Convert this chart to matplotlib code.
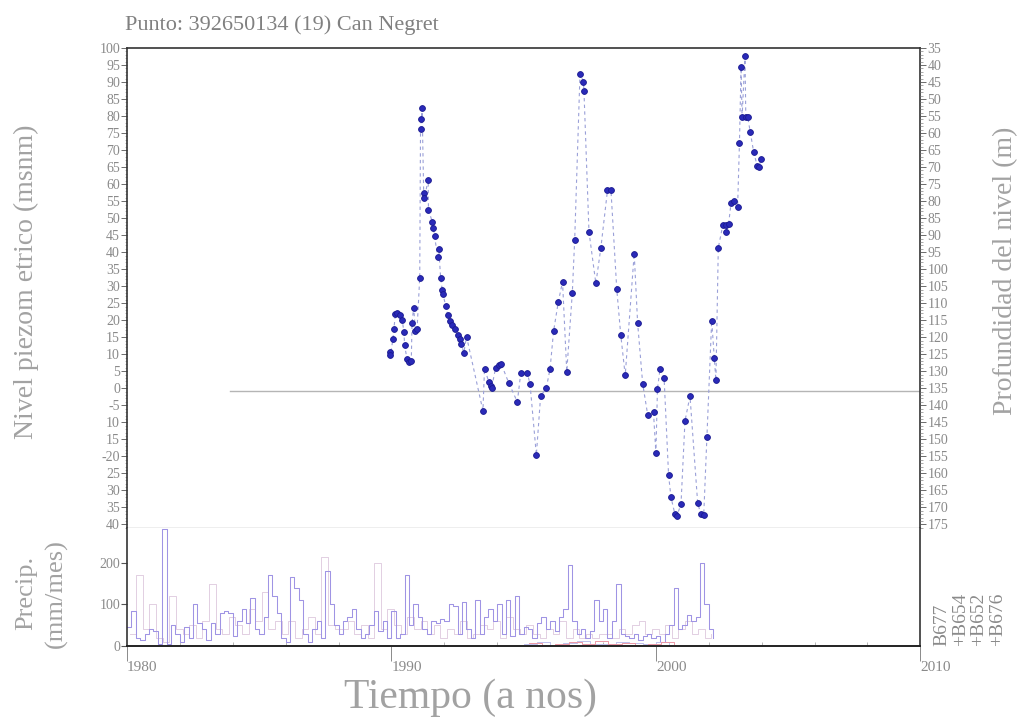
import numpy as np
import matplotlib
matplotlib.use("Agg")
import matplotlib.pyplot as plt
from matplotlib.ticker import MultipleLocator

plt.rcParams['font.family'] = ['Liberation Serif', 'DejaVu Serif']

# niveles piezometricos (msnm) del punto 392650134
years = [1989.94, 1989.96, 1990.06, 1990.09, 1990.15, 1990.22, 1990.31, 1990.41,
         1990.47, 1990.50, 1990.59, 1990.66, 1990.75, 1990.78, 1990.84, 1990.91,
         1990.97, 1991.07, 1991.10, 1991.13, 1991.16, 1991.22, 1991.25, 1991.39,
         1991.40, 1991.54, 1991.59, 1991.63, 1991.75, 1991.79, 1991.86, 1991.92,
         1991.95, 1992.05, 1992.13, 1992.21, 1992.30, 1992.42, 1992.51, 1992.59,
         1992.64, 1992.74, 1992.84, 1993.46, 1993.52, 1993.69, 1993.75, 1993.79,
         1993.94, 1994.06, 1994.16, 1994.44, 1994.76, 1994.89, 1995.14, 1995.24,
         1995.48, 1995.64, 1995.86, 1996.00, 1996.13, 1996.31, 1996.47, 1996.63,
         1996.84, 1996.93, 1997.13, 1997.26, 1997.28, 1997.47, 1997.73, 1997.92,
         1998.17, 1998.30, 1998.52, 1998.67, 1998.84, 1999.18, 1999.31, 1999.50,
         1999.69, 1999.91, 2000.00, 2000.06, 2000.16, 2000.31, 2000.48, 2000.57,
         2000.72, 2000.80, 2000.95, 2001.10, 2001.29, 2001.58, 2001.70, 2001.81,
         2001.93, 2002.11, 2002.21, 2002.27, 2002.36, 2002.53, 2002.65, 2002.66,
         2002.75, 2002.84, 2002.94, 2003.09, 2003.16, 2003.22, 2003.26, 2003.37,
         2003.40, 2003.47, 2003.57, 2003.70, 2003.83, 2003.89, 2003.98]
level = [10.6, 9.7, 14.6, 17.3, 21.7, 22.2, 21.4, 20.0,
         16.6, 12.6, 8.5, 7.7, 8.0, 19.3, 23.7, 16.8,
         17.5, 32.5, 76.2, 79.1, 82.3, 57.4, 56.0, 61.3,
         52.5, 49.0, 47.0, 44.7, 38.6, 41.0, 32.5, 29.0,
         27.6, 24.3, 21.4, 19.7, 18.5, 17.3, 15.8, 14.4,
         12.9, 10.5, 15.2, -6.6, 5.8, 1.7, 0.7, 0.2,
         6.0, 6.7, 7.0, 1.5, -4.0, 4.4, 4.4, 1.3,
         -19.6, -2.4, 0.2, 5.8, 16.7, 25.4, 31.3, 4.9,
         28.1, 43.7, 92.3, 90.1, 87.4, 46.0, 30.8, 41.3,
         58.2, 58.4, 29.2, 15.8, 3.8, 39.6, 19.1, 1.4,
         -7.8, -7.1, -19.1, -0.1, 5.8, 3.1, -25.5, -32.0,
         -37.0, -37.4, -34.0, -9.6, -2.3, -33.7, -37.0, -37.1,
         -14.2, 19.9, 8.8, 2.3, 41.3, 47.9, 48.1, 46.0,
         48.3, 54.3, 54.9, 53.2, 72.0, 94.3, 79.7, 97.7,
         79.7, 79.7, 75.3, 69.3, 65.4, 65.0, 67.4]

# precipitacion mensual (mm/mes), valores cada dos meses desde 1980
precip_start = 1980.0
precip_b677 = [45, 85, 20, 15, 30, 40,
               35, 5, 280, 5, 50, 30,
               10, 45, 20, 100, 55, 40,
               15, 55, 30, 80, 85, 80,
               25, 60, 90, 55, 115, 40,
               30, 70, 170, 120, 80, 20,
               10, 165, 140, 110, 30, 10,
               40, 60, 20, 180, 100, 50,
               30, 60, 70, 90, 40, 20,
               30, 50, 85, 35, 60, 20,
               85, 20, 30, 170, 50, 100,
               70, 40, 30, 60, 55, 65,
               60, 100, 95, 30, 105, 40,
               20, 110, 30, 70, 90, 60,
               100, 30, 110, 25, 120, 30,
               45, 40, 20, 55, 70, 40,
               60, 35, 70, 90, 195, 60,
               30, 40, 20, 35, 110, 60,
               90, 20, 60, 150, 30, 25,
               20, 30, 15, 25, 30, 20,
               25, 10, 30, 50, 140, 40,
               50, 75, 60, 70, 200, 100,
               40, 20]
# estacion B654, valores trimestrales
precip_b654 = [30, 170, 40, 100, 20, 10, 120, 40,
               30, 50, 20, 60, 150, 40, 30, 70,
               50, 30, 90, 60, 130, 40, 60, 30,
               60, 20, 40, 70, 30, 214, 50, 40,
               40, 60, 30, 50, 20, 200, 40, 90,
               50, 30, 70, 40, 60, 30, 50, 20,
               40, 30, 60, 20, 30, 50, 40, 60,
               20, 70, 40, 30, 50, 30, 20, 40,
               30, 60, 20, 40, 20, 30, 20, 30,
               30, 20, 40, 30, 50, 60, 30, 40,
               30, 50, 20, 40, 60, 30, 40, 20, 30]
# estaciones B652 y B676 (pocas lecturas, cerca de cero)
precip_b652 = [5, 10, 3, 8, 12, 6, 4, 10, 7, 5, 9, 4]
precip_b676 = [8, 3, 6, 10, 4, 12, 5, 8, 3, 6, 9, 4]

level_ticks = list(range(100, -45, -5))
level_ticklabels = ['100', '95', '90', '85', '80', '75', '70', '65', '60', '55',
                    '50', '45', '40', '35', '30', '25', '20', '15', '10', '5',
                    '0', '-5', '10', '15', '-20', '25', '30', '35', '40']
depth_ticks = list(range(35, 180, 5))
precip_ticks = [0, 100, 200]
year_ticks = [1980, 1990, 2000, 2010]
stations = ['B677', '+B654', '+B652', '+B676']

grey = '#8a8a8a'
label_grey = '#a2a2a2'
fig = plt.figure(figsize=(10.29, 7.27), dpi=100)

ax = fig.add_axes([0.1234, 0.274, 0.771, 0.660])
ax.plot(years, level, color='#9aa0d8', lw=0.8, ls=(0, (3, 3)), zorder=2)
ax.plot(years, level, ls='none', marker='o', ms=4.2, mfc='#2a2ab8', mec='#1a1a90',
        mew=0.6, zorder=3)
ax.plot([1983.9, 2010], [-0.9, -0.9], color='#b5b5b5', lw=1.0, zorder=1)
ax.set_xlim(1980, 2010)
ax.set_ylim(-41, 100)
ax.set_yticks(level_ticks)
ax.set_yticklabels(level_ticklabels)
ax.yaxis.set_minor_locator(MultipleLocator(1))
ax.tick_params(axis='y', labelsize=10, labelcolor=grey, color='#555', length=4, pad=1,
               width=0.6)
ax.tick_params(axis='y', which='minor', length=1.5, color='#999', width=0.5)
ax.set_xticks([])
for side in ['top', 'left', 'right']:
    ax.spines[side].set_color('#333')
    ax.spines[side].set_linewidth(1.2)
ax.spines['bottom'].set_color('#aaa')
ax.spines['bottom'].set_linewidth(1.0)

axr = ax.twinx()
axr.set_ylim(135 + 41, 135 - 100)
axr.set_yticks(depth_ticks)
axr.yaxis.set_minor_locator(MultipleLocator(1))
axr.tick_params(axis='y', labelsize=10, labelcolor=grey, color='#555', length=4, pad=1,
                width=0.6)
axr.tick_params(axis='y', which='minor', length=2, color='#888', width=0.5)
for s in axr.spines.values():
    s.set_visible(False)

axp = fig.add_axes([0.1234, 0.1114, 0.771, 0.1626])
t1 = precip_start + np.arange(len(precip_b677)) / 6.0
t2 = precip_start + 0.1 + np.arange(len(precip_b654)) / 4.0
t3 = 1995.0 + np.arange(len(precip_b652)) / 2.0
t4 = 1995.2 + np.arange(len(precip_b676)) / 2.0
axp.plot(t2, precip_b654, drawstyle='steps-post', color='#e2cfe2', lw=0.7)
axp.plot(t1, precip_b677, drawstyle='steps-post', color='#9f94e4', lw=0.75)
axp.plot(t3, precip_b652, drawstyle='steps-post', color='#c0c0ec', lw=0.7)
axp.plot(t4, precip_b676, drawstyle='steps-post', color='#ec98a6', lw=0.7)
axp.set_xlim(1980, 2010)
axp.set_ylim(0, 284)
axp.set_yticks(precip_ticks)
axp.set_xticks(year_ticks)
axp.xaxis.set_minor_locator(MultipleLocator(2))
axp.tick_params(axis='y', labelsize=10, labelcolor=grey, color='#555', length=4, pad=1)
axp.tick_params(axis='x', labelsize=11, labelcolor=grey, color='#777', length=11,
                pad=0, direction='out', width=0.6)
axp.tick_params(axis='x', which='minor', length=3, color='#aaa', direction='in')
for lab in axp.get_xticklabels():
    lab.set_horizontalalignment('left')
axp.spines['top'].set_visible(False)
axp.spines['left'].set_color('#333')
axp.spines['right'].set_color('#333')
axp.spines['left'].set_linewidth(1.2)
axp.spines['right'].set_linewidth(1.2)
axp.spines['bottom'].set_color('#222')
axp.spines['bottom'].set_linewidth(1.4)

fig.text(0.121, 0.965, 'Punto: 392650134 (19) Can Negret', fontsize=16, color='#808080',
         ha='left', va='center')
fig.text(0.026, 0.612, 'Nivel piezom etrico (msnm)', rotation=90, fontsize=20,
         color=label_grey, ha='center', va='center')
fig.text(0.977, 0.628, 'Profundidad del nivel (m)', rotation=90, fontsize=20,
         color=label_grey, ha='center', va='center')
fig.text(0.025, 0.184, 'Precip.', rotation=90, fontsize=19, color=label_grey,
         ha='center', va='center')
fig.text(0.055, 0.184, '(mm/mes)', rotation=90, fontsize=19, color=label_grey,
         ha='center', va='center')
fig.text(0.457, 0.04, 'Tiempo (a nos)', fontsize=30, color=label_grey, ha='center',
         va='center')
for i, name in enumerate(stations):
    fig.text(0.915 + i * 0.018, 0.112, name, rotation=90, fontsize=14, color='#8a8a8a',
             ha='center', va='bottom')

fig.savefig('out.png', dpi=100)
